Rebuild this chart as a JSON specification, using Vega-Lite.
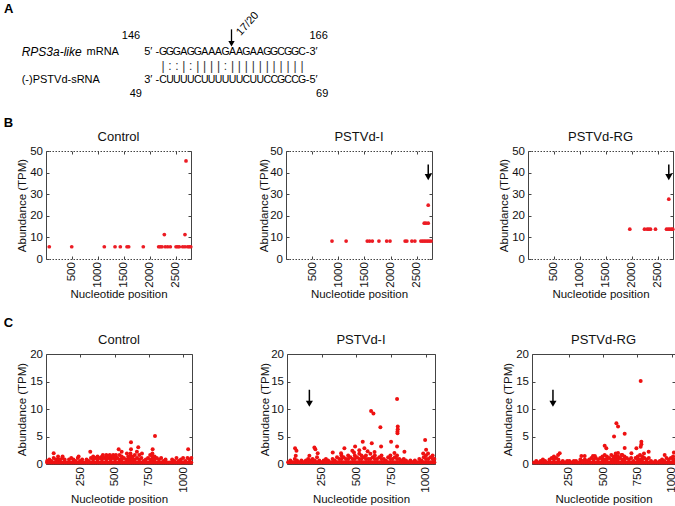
{
"$schema":"https://vega.github.io/schema/vega-lite/v6.json",
"padding":{"left":3,"top":0,"right":0,"bottom":0},
"spacing":17,
"config":{
 "font":"Liberation Sans",
 "view":{"stroke":null},
 "axis":{"labelFont":"Liberation Sans","labelFontSize":11.5,"labelColor":"#111","titleFont":"Liberation Sans","titleFontSize":11.5,"titleFontWeight":"normal","titleColor":"#111","domainColor":"#444","tickColor":"#444","grid":false,"tickSize":-3,"format":"d"},
 "title":{"font":"Liberation Sans","fontSize":13,"fontWeight":"normal","color":"#111","offset":1}
},
"datasets":{
 "seq":[{"t":"G","c":1,"r":1},{"t":"G","c":2,"r":1},{"t":"G","c":3,"r":1},{"t":"A","c":4,"r":1},{"t":"G","c":5,"r":1},{"t":"G","c":6,"r":1},{"t":"A","c":7,"r":1},{"t":"A","c":8,"r":1},{"t":"A","c":9,"r":1},{"t":"G","c":10,"r":1},{"t":"A","c":11,"r":1},{"t":"A","c":12,"r":1},{"t":"G","c":13,"r":1},{"t":"A","c":14,"r":1},{"t":"A","c":15,"r":1},{"t":"G","c":16,"r":1},{"t":"G","c":17,"r":1},{"t":"C","c":18,"r":1},{"t":"G","c":19,"r":1},{"t":"G","c":20,"r":1},{"t":"C","c":21,"r":1},
 {"t":"C","c":1,"r":3},{"t":"U","c":2,"r":3},{"t":"U","c":3,"r":3},{"t":"U","c":4,"r":3},{"t":"U","c":5,"r":3},{"t":"C","c":6,"r":3},{"t":"U","c":7,"r":3},{"t":"U","c":8,"r":3},{"t":"U","c":9,"r":3},{"t":"U","c":10,"r":3},{"t":"U","c":11,"r":3},{"t":"U","c":12,"r":3},{"t":"C","c":13,"r":3},{"t":"U","c":14,"r":3},{"t":"U","c":15,"r":3},{"t":"C","c":16,"r":3},{"t":"C","c":17,"r":3},{"t":"G","c":18,"r":3},{"t":"C","c":19,"r":3},{"t":"C","c":20,"r":3},{"t":"G","c":21,"r":3}],
 "pair":[{"t":"|","c":1,"r":2},{"t":":","c":2,"r":2},{"t":":","c":3,"r":2},{"t":"|","c":4,"r":2},{"t":":","c":5,"r":2},{"t":"|","c":6,"r":2},{"t":"|","c":7,"r":2},{"t":"|","c":8,"r":2},{"t":"|","c":9,"r":2},{"t":":","c":10,"r":2},{"t":"|","c":11,"r":2},{"t":"|","c":12,"r":2},{"t":"|","c":13,"r":2},{"t":"|","c":14,"r":2},{"t":"|","c":15,"r":2},{"t":"|","c":16,"r":2},{"t":"|","c":17,"r":2},{"t":"|","c":18,"r":2},{"t":"|","c":19,"r":2},{"t":"|","c":20,"r":2},{"t":"|","c":21,"r":2}],
 "num":[{"t":"146","c":-3.6,"r":-0.13},{"t":"166","c":23.4,"r":-0.13},{"t":"49","c":-2.9,"r":4.0},{"t":"69","c":23.9,"r":4.0}],
 "left":[{"t":"mRNA","c":-10.0,"r":1},{"t":"(-)PSTVd-sRNA","c":-19.33,"r":3},{"t":"-3′","c":21.55,"r":1},{"t":"-5′","c":21.55,"r":3}],
 "right":[{"t":"5′ -","c":0.45,"r":1},{"t":"3′ -","c":0.45,"r":3}],
 "ital":[{"t":"RPS3a-like","c":-19.33,"r":1}],
 "letter":[{"t":"A","c":-21.88,"r":-2.0}],
 "rot":[{"t":"17/20","c":13.2,"r":-0.96}],
 "aarrow":[{"c":10.86,"r":-0.58,"r2":0.43}],
 "bc":[{"x":63,"y":5.67},{"x":495,"y":5.67},{"x":1122,"y":5.67},{"x":1328,"y":5.67},{"x":1430,"y":5.67},{"x":1559,"y":5.67},{"x":1591,"y":5.67},{"x":1872,"y":5.67},{"x":2168,"y":5.67},{"x":2199,"y":5.67},{"x":2232,"y":5.67},{"x":2295,"y":5.67},{"x":2342,"y":5.67},{"x":2392,"y":5.67},{"x":2502,"y":5.67},{"x":2534,"y":5.67},{"x":2565,"y":5.67},{"x":2630,"y":5.67},{"x":2674,"y":5.67},{"x":2726,"y":5.67},{"x":2757,"y":5.67},{"x":2785,"y":5.67},{"x":2277,"y":11.34},{"x":2674,"y":11.34},{"x":2694,"y":45.4}],
 "bi":[{"x":879,"y":8.3},{"x":1149,"y":8.3},{"x":1553,"y":8.3},{"x":1597,"y":8.3},{"x":1649,"y":8.3},{"x":1776,"y":8.3},{"x":1924,"y":8.3},{"x":1988,"y":8.3},{"x":2276,"y":8.3},{"x":2309,"y":8.3},{"x":2405,"y":8.3},{"x":2463,"y":8.3},{"x":2578,"y":8.3},{"x":2611,"y":8.3},{"x":2642,"y":8.3},{"x":2674,"y":8.3},{"x":2707,"y":8.3},{"x":2738,"y":8.3},{"x":2771,"y":8.3},{"x":2642,"y":16.6},{"x":2674,"y":16.6},{"x":2718,"y":16.6},{"x":2718,"y":24.9}],
 "br":[{"x":1959,"y":13.8},{"x":2241,"y":13.8},{"x":2293,"y":13.8},{"x":2324,"y":13.8},{"x":2357,"y":13.8},{"x":2453,"y":13.8},{"x":2665,"y":13.8},{"x":2698,"y":13.8},{"x":2728,"y":13.8},{"x":2761,"y":13.8},{"x":2786,"y":13.8},{"x":2709,"y":27.7}],
 "abi":[{"x":2718,"y":43.7,"y2":37.9}],
 "abr":[{"x":2709,"y":43.7,"y2":37.9}],
 "aci":[{"x":161,"y":13.5,"y2":10.96}],
 "acr":[{"x":137,"y":13.5,"y2":10.96}],
 "cc":[{"x":8,"y":0.27},{"x":8,"y":0.55},{"x":24,"y":0.27},{"x":24,"y":0.82},{"x":40,"y":0.27},{"x":40,"y":0.55},{"x":56,"y":0.27},{"x":56,"y":1.1},{"x":72,"y":0.27},{"x":72,"y":0.82},{"x":88,"y":0.27},{"x":88,"y":0.82},{"x":88,"y":1.37},{"x":104,"y":0.27},{"x":104,"y":0.82},{"x":120,"y":0.27},{"x":120,"y":1.1},{"x":136,"y":0.27},{"x":136,"y":0.82},{"x":152,"y":0.27},{"x":168,"y":0.27},{"x":168,"y":0.82},{"x":184,"y":0.27},{"x":184,"y":1.1},{"x":200,"y":0.27},{"x":200,"y":0.82},{"x":216,"y":0.27},{"x":216,"y":0.55},{"x":232,"y":0.27},{"x":232,"y":1.1},{"x":248,"y":0.27},{"x":248,"y":0.55},{"x":264,"y":0.27},{"x":264,"y":0.82},{"x":280,"y":0.27},{"x":296,"y":0.27},{"x":296,"y":0.82},{"x":312,"y":0.27},{"x":312,"y":0.55},{"x":328,"y":0.27},{"x":328,"y":1.1},{"x":344,"y":0.27},{"x":344,"y":0.82},{"x":344,"y":1.37},{"x":360,"y":0.27},{"x":360,"y":1.1},{"x":376,"y":0.27},{"x":376,"y":0.82},{"x":376,"y":1.37},{"x":392,"y":0.27},{"x":392,"y":1.1},{"x":408,"y":0.27},{"x":408,"y":0.82},{"x":408,"y":1.37},{"x":424,"y":0.27},{"x":424,"y":1.1},{"x":440,"y":0.27},{"x":440,"y":0.82},{"x":440,"y":1.37},{"x":456,"y":0.27},{"x":456,"y":1.1},{"x":472,"y":0.27},{"x":472,"y":0.82},{"x":472,"y":1.37},{"x":488,"y":0.27},{"x":488,"y":1.1},{"x":504,"y":0.27},{"x":504,"y":0.82},{"x":504,"y":1.37},{"x":520,"y":0.27},{"x":520,"y":1.1},{"x":536,"y":0.27},{"x":536,"y":0.82},{"x":536,"y":1.64},{"x":552,"y":0.27},{"x":552,"y":0.82},{"x":552,"y":1.37},{"x":568,"y":0.27},{"x":568,"y":1.1},{"x":584,"y":0.27},{"x":584,"y":0.82},{"x":600,"y":0.27},{"x":600,"y":0.82},{"x":600,"y":1.37},{"x":616,"y":0.27},{"x":616,"y":0.82},{"x":616,"y":1.37},{"x":616,"y":1.92},{"x":632,"y":0.27},{"x":632,"y":0.82},{"x":632,"y":1.37},{"x":648,"y":0.27},{"x":648,"y":0.82},{"x":648,"y":1.64},{"x":664,"y":0.27},{"x":664,"y":1.1},{"x":680,"y":0.27},{"x":680,"y":0.82},{"x":680,"y":1.64},{"x":696,"y":0.27},{"x":696,"y":1.1},{"x":712,"y":0.27},{"x":712,"y":0.55},{"x":728,"y":0.27},{"x":728,"y":0.82},{"x":744,"y":0.27},{"x":744,"y":1.1},{"x":760,"y":0.27},{"x":760,"y":0.82},{"x":760,"y":1.64},{"x":776,"y":0.27},{"x":776,"y":0.82},{"x":776,"y":1.37},{"x":776,"y":1.92},{"x":792,"y":0.27},{"x":792,"y":0.82},{"x":792,"y":1.37},{"x":808,"y":0.27},{"x":808,"y":1.1},{"x":824,"y":0.27},{"x":824,"y":0.82},{"x":840,"y":0.27},{"x":840,"y":1.1},{"x":856,"y":0.27},{"x":856,"y":0.55},{"x":872,"y":0.27},{"x":872,"y":0.82},{"x":888,"y":0.27},{"x":904,"y":0.27},{"x":920,"y":0.27},{"x":920,"y":0.82},{"x":936,"y":0.27},{"x":936,"y":0.55},{"x":952,"y":0.27},{"x":952,"y":1.1},{"x":968,"y":0.27},{"x":968,"y":0.55},{"x":984,"y":0.27},{"x":984,"y":0.82},{"x":1000,"y":0.27},{"x":1000,"y":1.1},{"x":1016,"y":0.27},{"x":1016,"y":0.55},{"x":1032,"y":0.27},{"x":1032,"y":1.1},{"x":1048,"y":0.27},{"x":1048,"y":0.82},{"x":1060,"y":0.27},{"x":1060,"y":1.1},
  {"x":56,"y":1.95},{"x":121,"y":1.37},{"x":238,"y":1.37},{"x":323,"y":2.25},{"x":415,"y":1.64},{"x":440,"y":1.64},{"x":465,"y":1.64},{"x":490,"y":1.64},{"x":510,"y":1.64},{"x":530,"y":2.67},{"x":552,"y":2.25},{"x":590,"y":1.92},{"x":620,"y":3.95},{"x":620,"y":2.67},{"x":663,"y":2.25},{"x":673,"y":3.05},{"x":700,"y":1.92},{"x":778,"y":2.67},{"x":795,"y":5.1},{"x":1037,"y":2.67}],
 "ci":[{"x":8,"y":0.31},{"x":24,"y":0.31},{"x":24,"y":0.62},{"x":40,"y":0.31},{"x":56,"y":0.31},{"x":56,"y":0.93},{"x":72,"y":0.31},{"x":72,"y":0.62},{"x":88,"y":0.31},{"x":104,"y":0.31},{"x":104,"y":0.62},{"x":120,"y":0.31},{"x":136,"y":0.31},{"x":136,"y":0.62},{"x":152,"y":0.31},{"x":152,"y":0.93},{"x":168,"y":0.31},{"x":168,"y":0.62},{"x":184,"y":0.31},{"x":184,"y":0.93},{"x":200,"y":0.31},{"x":200,"y":0.62},{"x":216,"y":0.31},{"x":216,"y":1.24},{"x":232,"y":0.31},{"x":232,"y":0.62},{"x":248,"y":0.31},{"x":264,"y":0.31},{"x":264,"y":0.62},{"x":280,"y":0.31},{"x":280,"y":0.93},{"x":296,"y":0.31},{"x":296,"y":0.62},{"x":312,"y":0.31},{"x":328,"y":0.31},{"x":328,"y":0.93},{"x":344,"y":0.31},{"x":344,"y":0.62},{"x":360,"y":0.31},{"x":360,"y":1.24},{"x":376,"y":0.31},{"x":376,"y":0.93},{"x":392,"y":0.31},{"x":392,"y":0.93},{"x":392,"y":1.55},{"x":408,"y":0.31},{"x":408,"y":1.24},{"x":424,"y":0.31},{"x":424,"y":0.93},{"x":440,"y":0.31},{"x":440,"y":0.93},{"x":440,"y":1.55},{"x":456,"y":0.31},{"x":456,"y":1.24},{"x":472,"y":0.31},{"x":472,"y":0.93},{"x":488,"y":0.31},{"x":488,"y":0.93},{"x":488,"y":1.55},{"x":504,"y":0.31},{"x":504,"y":1.24},{"x":520,"y":0.31},{"x":520,"y":0.93},{"x":520,"y":1.86},{"x":536,"y":0.31},{"x":536,"y":0.93},{"x":536,"y":1.55},{"x":552,"y":0.31},{"x":552,"y":1.24},{"x":568,"y":0.31},{"x":568,"y":0.93},{"x":568,"y":1.55},{"x":584,"y":0.31},{"x":584,"y":0.93},{"x":600,"y":0.31},{"x":600,"y":0.93},{"x":600,"y":1.86},{"x":616,"y":0.31},{"x":616,"y":1.24},{"x":632,"y":0.31},{"x":632,"y":0.93},{"x":632,"y":1.55},{"x":648,"y":0.31},{"x":648,"y":0.93},{"x":664,"y":0.31},{"x":664,"y":1.24},{"x":680,"y":0.31},{"x":680,"y":0.93},{"x":680,"y":1.55},{"x":696,"y":0.31},{"x":696,"y":0.93},{"x":712,"y":0.31},{"x":712,"y":0.62},{"x":728,"y":0.31},{"x":728,"y":1.24},{"x":744,"y":0.31},{"x":744,"y":0.93},{"x":744,"y":1.55},{"x":760,"y":0.31},{"x":760,"y":0.93},{"x":776,"y":0.31},{"x":776,"y":1.24},{"x":792,"y":0.31},{"x":792,"y":0.93},{"x":792,"y":1.55},{"x":808,"y":0.31},{"x":808,"y":0.93},{"x":824,"y":0.31},{"x":824,"y":0.62},{"x":840,"y":0.31},{"x":840,"y":0.93},{"x":856,"y":0.31},{"x":856,"y":0.62},{"x":872,"y":0.31},{"x":888,"y":0.31},{"x":888,"y":0.62},{"x":904,"y":0.31},{"x":920,"y":0.31},{"x":920,"y":0.62},{"x":936,"y":0.31},{"x":952,"y":0.31},{"x":952,"y":0.93},{"x":968,"y":0.31},{"x":968,"y":0.62},{"x":984,"y":0.31},{"x":984,"y":1.24},{"x":1000,"y":0.31},{"x":1000,"y":0.93},{"x":1000,"y":1.55},{"x":1016,"y":0.31},{"x":1016,"y":0.93},{"x":1032,"y":0.31},{"x":1032,"y":1.24},{"x":1048,"y":0.31},{"x":1048,"y":0.93},{"x":1048,"y":1.55},{"x":1060,"y":0.31},{"x":1060,"y":0.93},
  {"x":58,"y":2.86},{"x":68,"y":2.4},{"x":63,"y":1.5},{"x":161,"y":1.5},{"x":197,"y":3.0},{"x":204,"y":2.67},{"x":221,"y":1.95},{"x":329,"y":2.1},{"x":389,"y":1.95},{"x":413,"y":2.85},{"x":470,"y":2.4},{"x":482,"y":2.1},{"x":490,"y":3.16},{"x":520,"y":2.5},{"x":545,"y":4.06},{"x":557,"y":2.86},{"x":580,"y":2.3},{"x":605,"y":9.65},{"x":610,"y":3.77},{"x":622,"y":9.2},{"x":630,"y":2.2},{"x":672,"y":6.7},{"x":677,"y":3.16},{"x":749,"y":4.06},{"x":773,"y":2.0},{"x":792,"y":11.8},{"x":792,"y":3.16},{"x":795,"y":5.6},{"x":795,"y":5.9},{"x":797,"y":6.3},{"x":797,"y":6.8},{"x":845,"y":2.25},{"x":980,"y":1.9},{"x":994,"y":4.37},{"x":1001,"y":2.6},{"x":1015,"y":1.9}],
 "cr":[{"x":0,"y":0.27},{"x":16,"y":0.27},{"x":16,"y":0.55},{"x":32,"y":0.27},{"x":48,"y":0.27},{"x":48,"y":0.55},{"x":64,"y":0.27},{"x":64,"y":0.82},{"x":80,"y":0.27},{"x":80,"y":0.55},{"x":96,"y":0.27},{"x":112,"y":0.27},{"x":112,"y":0.82},{"x":128,"y":0.27},{"x":128,"y":1.1},{"x":144,"y":0.27},{"x":144,"y":0.82},{"x":144,"y":1.37},{"x":160,"y":0.27},{"x":160,"y":1.1},{"x":176,"y":0.27},{"x":176,"y":0.82},{"x":192,"y":0.27},{"x":208,"y":0.27},{"x":208,"y":0.55},{"x":224,"y":0.27},{"x":240,"y":0.27},{"x":240,"y":0.55},{"x":256,"y":0.27},{"x":256,"y":0.55},{"x":272,"y":0.27},{"x":288,"y":0.27},{"x":288,"y":0.55},{"x":304,"y":0.27},{"x":304,"y":0.55},{"x":320,"y":0.27},{"x":336,"y":0.27},{"x":336,"y":0.82},{"x":352,"y":0.27},{"x":352,"y":0.55},{"x":368,"y":0.27},{"x":368,"y":0.82},{"x":384,"y":0.27},{"x":384,"y":0.55},{"x":400,"y":0.27},{"x":400,"y":0.82},{"x":416,"y":0.27},{"x":416,"y":1.1},{"x":432,"y":0.27},{"x":432,"y":0.82},{"x":448,"y":0.27},{"x":448,"y":1.1},{"x":464,"y":0.27},{"x":464,"y":0.82},{"x":480,"y":0.27},{"x":480,"y":1.1},{"x":496,"y":0.27},{"x":496,"y":0.82},{"x":496,"y":1.37},{"x":512,"y":0.27},{"x":512,"y":0.82},{"x":512,"y":1.64},{"x":528,"y":0.27},{"x":528,"y":0.82},{"x":528,"y":1.37},{"x":544,"y":0.27},{"x":544,"y":1.1},{"x":560,"y":0.27},{"x":560,"y":0.82},{"x":560,"y":1.64},{"x":576,"y":0.27},{"x":576,"y":0.82},{"x":576,"y":1.37},{"x":592,"y":0.27},{"x":592,"y":0.82},{"x":592,"y":1.37},{"x":592,"y":1.92},{"x":608,"y":0.27},{"x":608,"y":0.82},{"x":608,"y":1.37},{"x":624,"y":0.27},{"x":624,"y":1.1},{"x":640,"y":0.27},{"x":640,"y":0.82},{"x":640,"y":1.64},{"x":656,"y":0.27},{"x":656,"y":0.82},{"x":656,"y":1.37},{"x":672,"y":0.27},{"x":672,"y":1.1},{"x":688,"y":0.27},{"x":688,"y":0.82},{"x":704,"y":0.27},{"x":704,"y":1.1},{"x":720,"y":0.27},{"x":720,"y":0.55},{"x":736,"y":0.27},{"x":736,"y":1.1},{"x":752,"y":0.27},{"x":752,"y":0.82},{"x":752,"y":1.37},{"x":768,"y":0.27},{"x":768,"y":0.82},{"x":768,"y":1.64},{"x":784,"y":0.27},{"x":784,"y":0.82},{"x":784,"y":1.37},{"x":800,"y":0.27},{"x":800,"y":1.1},{"x":816,"y":0.27},{"x":816,"y":0.82},{"x":832,"y":0.27},{"x":832,"y":1.1},{"x":848,"y":0.27},{"x":848,"y":0.55},{"x":864,"y":0.27},{"x":880,"y":0.27},{"x":880,"y":0.55},{"x":896,"y":0.27},{"x":912,"y":0.27},{"x":912,"y":0.55},{"x":928,"y":0.27},{"x":928,"y":0.82},{"x":944,"y":0.27},{"x":944,"y":0.55},{"x":960,"y":0.27},{"x":960,"y":1.1},{"x":976,"y":0.27},{"x":976,"y":0.82},{"x":992,"y":0.27},{"x":992,"y":1.1},{"x":1008,"y":0.27},{"x":1008,"y":0.82},{"x":1008,"y":1.37},{"x":1020,"y":0.27},{"x":1020,"y":0.82},
  {"x":174,"y":1.64},{"x":186,"y":1.95},{"x":343,"y":1.46},{"x":367,"y":1.46},{"x":427,"y":1.46},{"x":441,"y":1.46},{"x":512,"y":3.3},{"x":524,"y":2.86},{"x":580,"y":5.0},{"x":597,"y":7.4},{"x":609,"y":2.0},{"x":609,"y":6.8},{"x":633,"y":1.64},{"x":657,"y":5.5},{"x":657,"y":2.9},{"x":706,"y":1.95},{"x":742,"y":2.86},{"x":773,"y":15.1},{"x":773,"y":3.15},{"x":778,"y":3.6},{"x":778,"y":4.06},{"x":797,"y":1.9},{"x":831,"y":2.25},{"x":947,"y":1.64},{"x":1014,"y":2.1}]
},
"vconcat":[
 {
  "width":330,"height":98,
  "encoding":{
   "x":{"field":"c","type":"quantitative","scale":{"domain":[-15.83,31.65],"nice":false,"zero":false},"axis":null},
   "y":{"field":"r","type":"quantitative","scale":{"domain":[-2.654,4.272],"nice":false,"zero":false,"reverse":true},"axis":null}
  },
  "layer":[
   {"data":{"name":"seq"},"mark":{"type":"text","fontSize":10.5,"align":"center","baseline":"middle","color":"#000"},"encoding":{"text":{"field":"t"}}},
   {"data":{"name":"pair"},"mark":{"type":"text","fontSize":12,"align":"center","baseline":"middle","color":"#333"},"encoding":{"text":{"field":"t"}}},
   {"data":{"name":"num"},"mark":{"type":"text","fontSize":11,"align":"center","baseline":"middle","color":"#000"},"encoding":{"text":{"field":"t"}}},
   {"data":{"name":"left"},"mark":{"type":"text","fontSize":11,"align":"left","baseline":"middle","color":"#000"},"encoding":{"text":{"field":"t"}}},
   {"data":{"name":"right"},"mark":{"type":"text","fontSize":11,"align":"right","baseline":"middle","color":"#000"},"encoding":{"text":{"field":"t"}}},
   {"data":{"name":"ital"},"mark":{"type":"text","fontSize":12,"fontStyle":"italic","align":"left","baseline":"middle","color":"#000"},"encoding":{"text":{"field":"t"}}},
   {"data":{"name":"letter"},"mark":{"type":"text","fontSize":13,"fontWeight":"bold","align":"left","baseline":"middle","color":"#000"},"encoding":{"text":{"field":"t"}}},
   {"data":{"name":"rot"},"mark":{"type":"text","fontSize":11,"angle":-48,"align":"center","baseline":"middle","color":"#000"},"encoding":{"text":{"field":"t"}}},
   {"data":{"name":"aarrow"},"mark":{"type":"rule","color":"#000","strokeWidth":1.3},"encoding":{"y2":{"field":"r2"}}},
   {"data":{"name":"aarrow"},"mark":{"type":"point","shape":"triangle-down","filled":true,"size":40,"color":"#000","opacity":1},"encoding":{"y":{"field":"r2","type":"quantitative"}}}
  ]
 },
 {
  "title":{"text":"B","anchor":"start","frame":"bounds","fontSize":13,"fontWeight":"bold","color":"#000","dx":-13,"offset":1},
  "spacing":64,
  "hconcat":[
   {"width":145,"height":108,"title":"Control",
    "layer":[
     {"data":{"name":"bc"},"mark":{"type":"point","filled":true,"size":14,"color":"#ec1c24","opacity":1},
      "encoding":{"x":{"field":"x","type":"quantitative","scale":{"domain":[0,2790],"nice":false,"zero":false},"axis":{"values":[500,1000,1500,2000,2500],"labelAngle":270,"title":"Nucleotide position","labelPadding":5.6,"titlePadding":1,"domainDash":[1.5,1.5]}},
                  "y":{"field":"y","type":"quantitative","scale":{"domain":[0,50],"nice":false},"axis":{"values":[0,10,20,30,40,50],"title":"Abundance (TPM)","labelPadding":6.5,"titlePadding":2}}}},
     {"data":{"name":"bc"},"mark":{"type":"point","opacity":0},
      "encoding":{"x":{"field":"x","type":"quantitative","axis":{"orient":"top","labels":false,"title":null,"values":[500,1000,1500,2000,2500],"domainDash":[1.5,1.5]}},
                  "y":{"field":"y","type":"quantitative","axis":{"orient":"right","labels":false,"title":null,"values":[0,10,20,30,40,50]}}}}
    ],
    "resolve":{"axis":{"x":"independent","y":"independent"}}},
   {"width":146,"height":108,"title":"PSTVd-I",
    "layer":[
     {"data":{"name":"bi"},"mark":{"type":"point","filled":true,"size":14,"color":"#ec1c24","opacity":1},
      "encoding":{"x":{"field":"x","type":"quantitative","scale":{"domain":[0,2790],"nice":false,"zero":false},"axis":{"values":[500,1000,1500,2000,2500],"labelAngle":270,"title":"Nucleotide position","labelPadding":5.6,"titlePadding":1,"domainDash":[1.5,1.5]}},
                  "y":{"field":"y","type":"quantitative","scale":{"domain":[0,50],"nice":false},"axis":{"values":[0,10,20,30,40,50],"title":"Abundance (TPM)","labelPadding":6.5,"titlePadding":0}}}},
     {"data":{"name":"bi"},"mark":{"type":"point","opacity":0},
      "encoding":{"x":{"field":"x","type":"quantitative","axis":{"orient":"top","labels":false,"title":null,"values":[500,1000,1500,2000,2500],"domainDash":[1.5,1.5]}},
                  "y":{"field":"y","type":"quantitative","axis":{"orient":"right","labels":false,"title":null,"values":[0,10,20,30,40,50]}}}},
     {"data":{"name":"abi"},"mark":{"type":"rule","color":"#000","strokeWidth":1.5},
      "encoding":{"x":{"field":"x","type":"quantitative","axis":null},"y":{"field":"y","type":"quantitative","axis":null},"y2":{"field":"y2"}}},
     {"data":{"name":"abi"},"mark":{"type":"point","shape":"triangle-down","filled":true,"size":50,"color":"#000","opacity":1},
      "encoding":{"x":{"field":"x","type":"quantitative","axis":null},"y":{"field":"y2","type":"quantitative","axis":null}}}
    ],
    "resolve":{"axis":{"x":"independent","y":"independent"}}},
   {"width":145,"height":108,"title":"PSTVd-RG",
    "layer":[
     {"data":{"name":"br"},"mark":{"type":"point","filled":true,"size":14,"color":"#ec1c24","opacity":1},
      "encoding":{"x":{"field":"x","type":"quantitative","scale":{"domain":[0,2790],"nice":false,"zero":false},"axis":{"values":[500,1000,1500,2000,2500],"labelAngle":270,"title":"Nucleotide position","labelPadding":5.6,"titlePadding":1,"domainDash":[1.5,1.5]}},
                  "y":{"field":"y","type":"quantitative","scale":{"domain":[0,50],"nice":false},"axis":{"values":[0,10,20,30,40,50],"title":"Abundance (TPM)","labelPadding":6.5,"titlePadding":2}}}},
     {"data":{"name":"br"},"mark":{"type":"point","opacity":0},
      "encoding":{"x":{"field":"x","type":"quantitative","axis":{"orient":"top","labels":false,"title":null,"values":[500,1000,1500,2000,2500],"domainDash":[1.5,1.5]}},
                  "y":{"field":"y","type":"quantitative","axis":{"orient":"right","labels":false,"title":null,"values":[0,10,20,30,40,50]}}}},
     {"data":{"name":"abr"},"mark":{"type":"rule","color":"#000","strokeWidth":1.5},
      "encoding":{"x":{"field":"x","type":"quantitative","axis":null},"y":{"field":"y","type":"quantitative","axis":null},"y2":{"field":"y2"}}},
     {"data":{"name":"abr"},"mark":{"type":"point","shape":"triangle-down","filled":true,"size":50,"color":"#000","opacity":1},
      "encoding":{"x":{"field":"x","type":"quantitative","axis":null},"y":{"field":"y2","type":"quantitative","axis":null}}}
    ],
    "resolve":{"axis":{"x":"independent","y":"independent"}}}
  ]
 },
 {
  "title":{"text":"C","anchor":"start","frame":"bounds","fontSize":13,"fontWeight":"bold","color":"#000","dx":-13,"offset":4},
  "spacing":64,
  "hconcat":[
   {"width":146,"height":110,"title":"Control",
    "layer":[
     {"data":{"name":"cc"},"mark":{"type":"point","filled":true,"size":16,"color":"#ee1111","opacity":1},
      "encoding":{"x":{"field":"x","type":"quantitative","scale":{"domain":[0,1065],"nice":false,"zero":false},"axis":{"values":[250,500,750,1000],"labelAngle":270,"title":"Nucleotide position","labelPadding":5.6,"titlePadding":1}},
                  "y":{"field":"y","type":"quantitative","scale":{"domain":[0,20],"nice":false},"axis":{"values":[0,5,10,15,20],"title":"Abundance (TPM)","labelPadding":6.5,"titlePadding":2}}}},
     {"data":{"name":"cc"},"mark":{"type":"point","opacity":0},
      "encoding":{"x":{"field":"x","type":"quantitative","axis":{"orient":"top","labels":false,"title":null,"values":[250,500,750,1000]}},
                  "y":{"field":"y","type":"quantitative","axis":{"orient":"right","labels":false,"title":null,"values":[0,5,10,15,20]}}}}
    ],
    "resolve":{"axis":{"x":"independent","y":"independent"}}},
   {"width":148,"height":110,"title":"PSTVd-I",
    "layer":[
     {"data":{"name":"ci"},"mark":{"type":"point","filled":true,"size":16,"color":"#ee1111","opacity":1},
      "encoding":{"x":{"field":"x","type":"quantitative","scale":{"domain":[0,1065],"nice":false,"zero":false},"axis":{"values":[250,500,750,1000],"labelAngle":270,"title":"Nucleotide position","labelPadding":5.6,"titlePadding":1}},
                  "y":{"field":"y","type":"quantitative","scale":{"domain":[0,20],"nice":false},"axis":{"values":[0,5,10,15,20],"title":"Abundance (TPM)","labelPadding":6.5,"titlePadding":0}}}},
     {"data":{"name":"ci"},"mark":{"type":"point","opacity":0},
      "encoding":{"x":{"field":"x","type":"quantitative","axis":{"orient":"top","labels":false,"title":null,"values":[250,500,750,1000]}},
                  "y":{"field":"y","type":"quantitative","axis":{"orient":"right","labels":false,"title":null,"values":[0,5,10,15,20]}}}},
     {"data":{"name":"aci"},"mark":{"type":"rule","color":"#000","strokeWidth":1.5},
      "encoding":{"x":{"field":"x","type":"quantitative","axis":null},"y":{"field":"y","type":"quantitative","axis":null},"y2":{"field":"y2"}}},
     {"data":{"name":"aci"},"mark":{"type":"point","shape":"triangle-down","filled":true,"size":50,"color":"#000","opacity":1},
      "encoding":{"x":{"field":"x","type":"quantitative","axis":null},"y":{"field":"y2","type":"quantitative","axis":null}}}
    ],
    "resolve":{"axis":{"x":"independent","y":"independent"}}},
   {"width":143,"height":110,"title":"PSTVd-RG",
    "layer":[
     {"data":{"name":"cr"},"mark":{"type":"point","filled":true,"size":16,"color":"#ee1111","opacity":1},
      "encoding":{"x":{"field":"x","type":"quantitative","scale":{"domain":[-15,1022],"nice":false,"zero":false},"axis":{"values":[250,500,750,1000],"labelAngle":270,"title":"Nucleotide position","labelPadding":5.6,"titlePadding":1}},
                  "y":{"field":"y","type":"quantitative","scale":{"domain":[0,20],"nice":false},"axis":{"values":[0,5,10,15,20],"title":"Abundance (TPM)","labelPadding":6.5,"titlePadding":2}}}},
     {"data":{"name":"cr"},"mark":{"type":"point","opacity":0},
      "encoding":{"x":{"field":"x","type":"quantitative","axis":{"orient":"top","labels":false,"title":null,"values":[250,500,750,1000]}},
                  "y":{"field":"y","type":"quantitative","axis":{"orient":"right","labels":false,"title":null,"values":[0,5,10,15,20]}}}},
     {"data":{"name":"acr"},"mark":{"type":"rule","color":"#000","strokeWidth":1.5},
      "encoding":{"x":{"field":"x","type":"quantitative","axis":null},"y":{"field":"y","type":"quantitative","axis":null},"y2":{"field":"y2"}}},
     {"data":{"name":"acr"},"mark":{"type":"point","shape":"triangle-down","filled":true,"size":50,"color":"#000","opacity":1},
      "encoding":{"x":{"field":"x","type":"quantitative","axis":null},"y":{"field":"y2","type":"quantitative","axis":null}}}
    ],
    "resolve":{"axis":{"x":"independent","y":"independent"}}}
  ]
 }
]
}
